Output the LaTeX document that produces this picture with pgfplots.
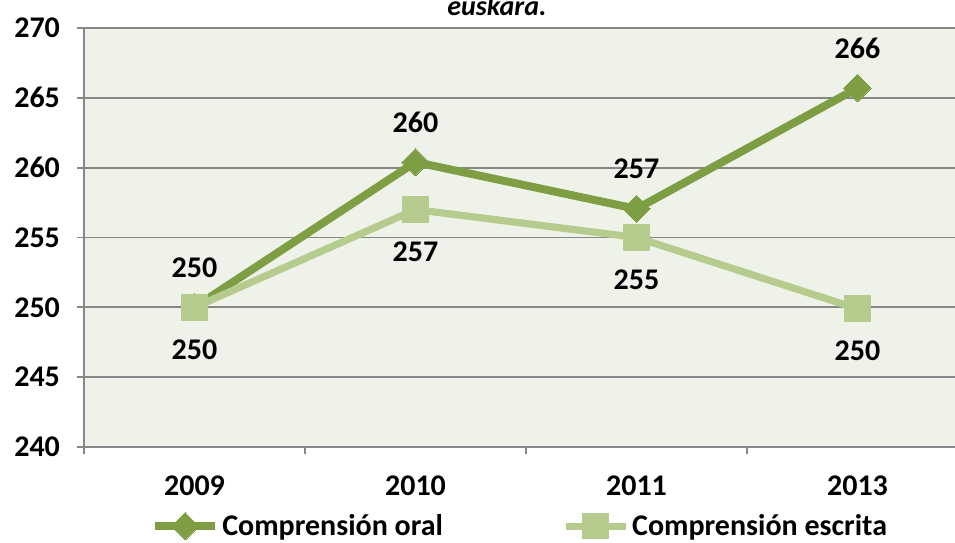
\documentclass[border=0pt]{standalone}
\usepackage{pgfplots}
\pgfplotsset{compat=1.18}
\usepackage{fontspec}
\setmainfont{Carlito}
\definecolor{oral}{HTML}{7E9E43}
\definecolor{escrita}{HTML}{B5CC8E}
\definecolor{bg}{HTML}{EFF2E9}
\definecolor{gridc}{HTML}{878787}
\begin{document}
\begin{tikzpicture}
\useasboundingbox (-42pt,-47.5pt) rectangle (435.5pt,223.5pt);
\clip (-42pt,-47.5pt) rectangle (435.5pt,223.5pt);
\begin{axis}[at={(0pt,0pt)}, anchor=south west, scale only axis,
  width=442pt, height=209.5pt,
  xmin=0, xmax=4, ymin=240, ymax=270,
  ytick={240,245,...,270},
  xtick={0,1,2,3,4}, xticklabels={2009,2010,2011,2013},
  x tick label as interval,
  axis x line=bottom, axis y line=left,
  axis line style={gridc, line width=0.9pt, -},
  axis background/.style={fill=bg},
  ymajorgrids, grid style={gridc, line width=0.9pt},
  tick align=outside,
  major tick length=3.5pt,
  tick style={gridc, line width=0.9pt},
  tick label style={font=\bfseries\fontsize{15}{17}\selectfont},
  yticklabel style={xshift=-5pt},
  xticklabel style={yshift=-7.5pt},
  /pgf/number format/assume math mode=true,
  legend style={at={(0.494,-0.189)}, anchor=center, draw=none, fill=none,
    font=\bfseries\fontsize{15}{17}\selectfont, legend columns=2,
    nodes={inner xsep=1.5pt}},
  legend cell align=left,
  /tikz/every even column/.append style={column sep=58pt},
  legend image code/.code={\draw[mark repeat=2,mark phase=2] plot coordinates {(0pt,0pt)(15pt,0pt)(30pt,0pt)};},
  nodes near coords={\pgfmathprintnumber[fixed,precision=0]{\pgfplotspointmeta}},
  every node near coord/.append style={font=\bfseries\fontsize{15}{17}\selectfont, black, anchor=center},
]
\addplot[oral, line width=4pt, mark=square*, mark size=4.8pt, mark options={rotate=45, line width=0pt},
  every node near coord/.append style={yshift=20pt}]
  coordinates {(0.5,250) (1.5,260.4) (2.5,257.05) (3.5,265.7)};
\addlegendentry{Comprensión oral}
\addplot[escrita, line width=3.6pt, mark=square*, mark size=6.4pt, mark options={line width=0pt},
  every node near coord/.append style={yshift=-21pt}]
  coordinates {(0.5,250) (1.5,257) (2.5,255) (3.5,249.9)};
\addlegendentry{Comprensión escrita}
\end{axis}
\node[anchor=base, font=\bfseries\itshape\fontsize{14}{16}\selectfont] at (206.5pt,215.5pt) {euskara.};
\end{tikzpicture}
\end{document}
